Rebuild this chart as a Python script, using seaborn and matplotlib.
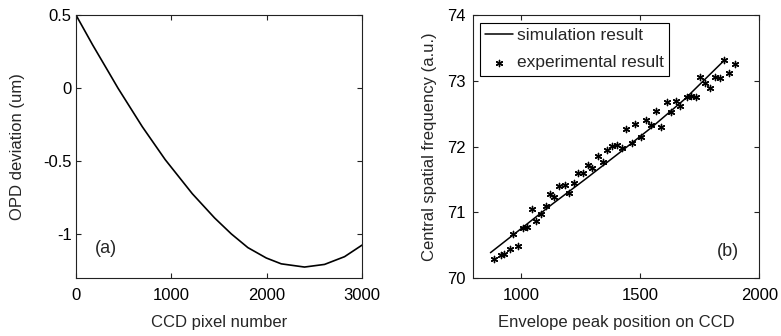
import matplotlib
matplotlib.use("Agg")
import matplotlib.pyplot as plt
import seaborn as sns
import pandas as pd

# ---- data: panel (a) ----
pixel_a = [0, 175, 346, 440, 696, 936, 1220, 1454, 1629, 1803, 1996, 2153, 2397, 2607, 2817, 3000]
opd_a = [0.5, 0.295, 0.105, 0.0, -0.265, -0.49, -0.723, -0.889, -0.998, -1.092, -1.163,
         -1.203, -1.225, -1.207, -1.154, -1.075]

# ---- data: panel (b) ----
sim_x = [872, 990, 1130, 1269, 1408, 1548, 1687, 1850]
sim_y = [70.385, 70.72, 71.12, 71.50, 71.89, 72.29, 72.72, 73.30]

exp_x = [888, 916, 927, 952, 966, 987, 1008, 1025, 1046, 1064, 1083, 1104, 1121, 1140,
         1161, 1185, 1202, 1222, 1241, 1259, 1282, 1300, 1323, 1343, 1362, 1383, 1402,
         1423, 1441, 1464, 1478, 1505, 1524, 1544, 1566, 1587, 1611, 1628, 1651, 1669,
         1695, 1713, 1733, 1753, 1773, 1795, 1813, 1837, 1854, 1874, 1897]
exp_y = [70.29, 70.35, 70.36, 70.44, 70.67, 70.49, 70.76, 70.77, 71.05, 70.87, 70.97,
         71.10, 71.28, 71.23, 71.40, 71.42, 71.30, 71.44, 71.59, 71.60, 71.72, 71.68,
         71.86, 71.77, 71.94, 72.01, 72.02, 71.97, 72.27, 72.06, 72.34, 72.15, 72.40,
         72.33, 72.54, 72.30, 72.68, 72.52, 72.69, 72.61, 72.75, 72.77, 72.76, 73.05,
         72.96, 72.89, 73.06, 73.04, 73.31, 73.12, 73.26]

sns.set_theme(style="white")
plt.rcParams["font.family"] = ["Liberation Sans", "DejaVu Sans"]
plt.rcParams.update({
    "font.size": 12,
    "axes.edgecolor": "#222222",
    "axes.linewidth": 0.8,
    "xtick.direction": "in",
    "ytick.direction": "in",
    "xtick.top": True,
    "ytick.right": True,
    "xtick.bottom": True,
    "ytick.left": True,
    "xtick.major.size": 3.5,
    "ytick.major.size": 3.5,
    "xtick.major.width": 0.8,
    "ytick.major.width": 0.8,
    "xtick.color": "#222222",
    "ytick.color": "#222222",
    "xtick.labelcolor": "black",
    "ytick.labelcolor": "black",
    "lines.solid_joinstyle": "round",
})

fig = plt.figure(figsize=(7.81, 3.36), dpi=100)
ax1 = fig.add_axes([0.0973, 0.1726, 0.3662, 0.7827])
ax2 = fig.add_axes([0.6060, 0.1726, 0.3662, 0.7827])

# panel (a)
df_a = pd.DataFrame({"x": pixel_a, "y": opd_a})
sns.lineplot(data=df_a, x="x", y="y", ax=ax1, color="black", linewidth=1.2, sort=False)
ax1.set_xlim(0, 3000)
ax1.set_ylim(-1.3, 0.5)
ax1.set_xticks([0, 1000, 2000, 3000])
ax1.set_yticks([0.5, 0, -0.5, -1])
ax1.set_yticklabels(["0.5", "0", "-0.5", "-1"])
ax1.tick_params(axis="x", labelsize=12, pad=7)
ax1.tick_params(axis="y", labelsize=12, pad=3)
ax1.set_xlabel("CCD pixel number", fontsize=12, labelpad=9)
ax1.set_ylabel("OPD deviation (um)", fontsize=12, labelpad=13)
ax1.text(310, -1.10, "(a)", fontsize=13, ha="center", va="center")

# panel (b)
df_sim = pd.DataFrame({"x": sim_x, "y": sim_y})
df_exp = pd.DataFrame({"x": exp_x, "y": exp_y})
sns.lineplot(data=df_sim, x="x", y="y", ax=ax2, color="black", linewidth=1.1,
             label="simulation result", sort=False)
sns.scatterplot(data=df_exp, x="x", y="y", ax=ax2, marker=(6, 2, 0), s=20,
                color="black", edgecolor="black", linewidth=1.0, label="experimental result")
ax2.set_xlim(800, 2000)
ax2.set_ylim(70, 74)
ax2.set_xticks([1000, 1500, 2000])
ax2.set_yticks([70, 71, 72, 73, 74])
ax2.tick_params(axis="x", labelsize=12, pad=7)
ax2.tick_params(axis="y", labelsize=12, pad=5.5)
ax2.set_xlabel("Envelope peak position on CCD", fontsize=12, labelpad=9)
ax2.set_ylabel("Central spatial frequency (a.u.)", fontsize=12, labelpad=7)
ax2.text(1869, 70.40, "(b)", fontsize=13, ha="center", va="center")

leg = ax2.legend(loc="upper left", bbox_to_anchor=(0.023, 0.971), borderaxespad=0,
                 fontsize=12.5, frameon=True, fancybox=False, framealpha=1,
                 edgecolor="black", handlelength=1.6, handletextpad=0.25,
                 labelspacing=0.7, borderpad=0.3)
leg.get_frame().set_linewidth(0.8)

for ax in (ax1, ax2):
    for s in ax.spines.values():
        s.set_visible(True)

fig.savefig("out.png", dpi=100)
